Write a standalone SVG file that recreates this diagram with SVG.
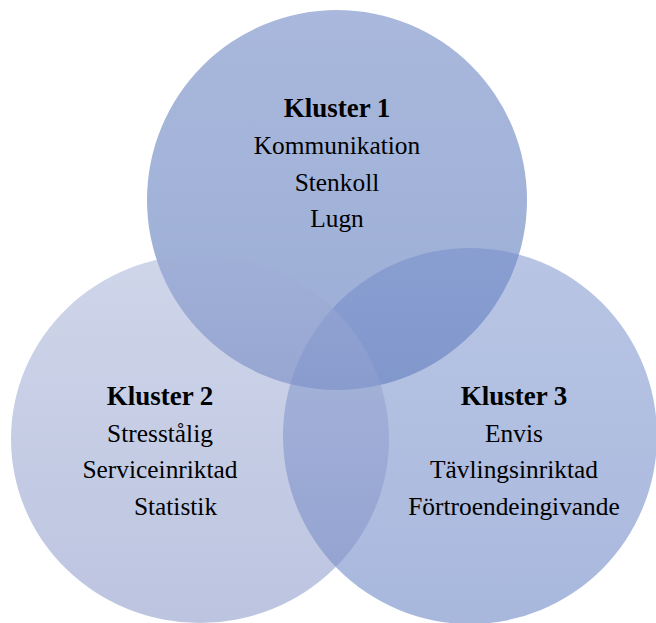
<svg xmlns="http://www.w3.org/2000/svg" width="656" height="623" viewBox="0 0 656 623">
  <style>
    .set { fill-opacity: 0.5; }
    .title { font-family: "Liberation Serif", "Times New Roman", serif; font-size: 27px; font-weight: bold; fill: #000; text-anchor: middle; }
    .item { font-family: "Liberation Serif", "Times New Roman", serif; font-size: 25.4px; fill: #000; text-anchor: middle; }
  </style>
  <defs>
    <linearGradient id="g1" x1="0" y1="0" x2="0" y2="1">
      <stop offset="0" stop-color="#5371b9"/>
      <stop offset="1" stop-color="#395dad"/>
    </linearGradient>
    <linearGradient id="g2" x1="0" y1="0" x2="0" y2="1">
      <stop offset="0" stop-color="#9fadd5"/>
      <stop offset="1" stop-color="#7989c1"/>
    </linearGradient>
    <linearGradient id="g3" x1="0" y1="0" x2="0" y2="1">
      <stop offset="0" stop-color="#738bc9"/>
      <stop offset="1" stop-color="#5171bb"/>
    </linearGradient>
  </defs>

  <rect width="656" height="623" fill="#ffffff"/>

  <!-- Kluster 1 (top set) -->
  <g id="kluster1">
    <ellipse class="set" cx="337" cy="200" rx="190" ry="190" fill="url(#g1)"/>
  </g>

  <!-- Kluster 3 (right set) -->
  <g id="kluster3">
    <ellipse class="set" cx="470" cy="436" rx="187" ry="188" fill="url(#g3)"/>
  </g>

  <!-- Kluster 2 (left set) -->
  <g id="kluster2">
    <ellipse class="set" cx="200" cy="439" rx="189" ry="184" fill="url(#g2)"/>
  </g>

  <!-- labels -->
  <g id="labels1">
    <text class="title" x="337" y="117">Kluster 1</text>
    <text class="item" x="337" y="154">Kommunikation</text>
    <text class="item" x="337" y="191">Stenkoll</text>
    <text class="item" x="337" y="227">Lugn</text>
  </g>
  <g id="labels2">
    <text class="title" x="160" y="405">Kluster 2</text>
    <text class="item" x="160" y="442">Stresstålig</text>
    <text class="item" x="160" y="478">Serviceinriktad</text>
    <text class="item" x="175.5" y="515">Statistik</text>
  </g>
  <g id="labels3">
    <text class="title" x="514" y="405">Kluster 3</text>
    <text class="item" x="514" y="442">Envis</text>
    <text class="item" x="514" y="478">Tävlingsinriktad</text>
    <text class="item" x="514" y="515">Förtroendeingivande</text>
  </g>
</svg>
